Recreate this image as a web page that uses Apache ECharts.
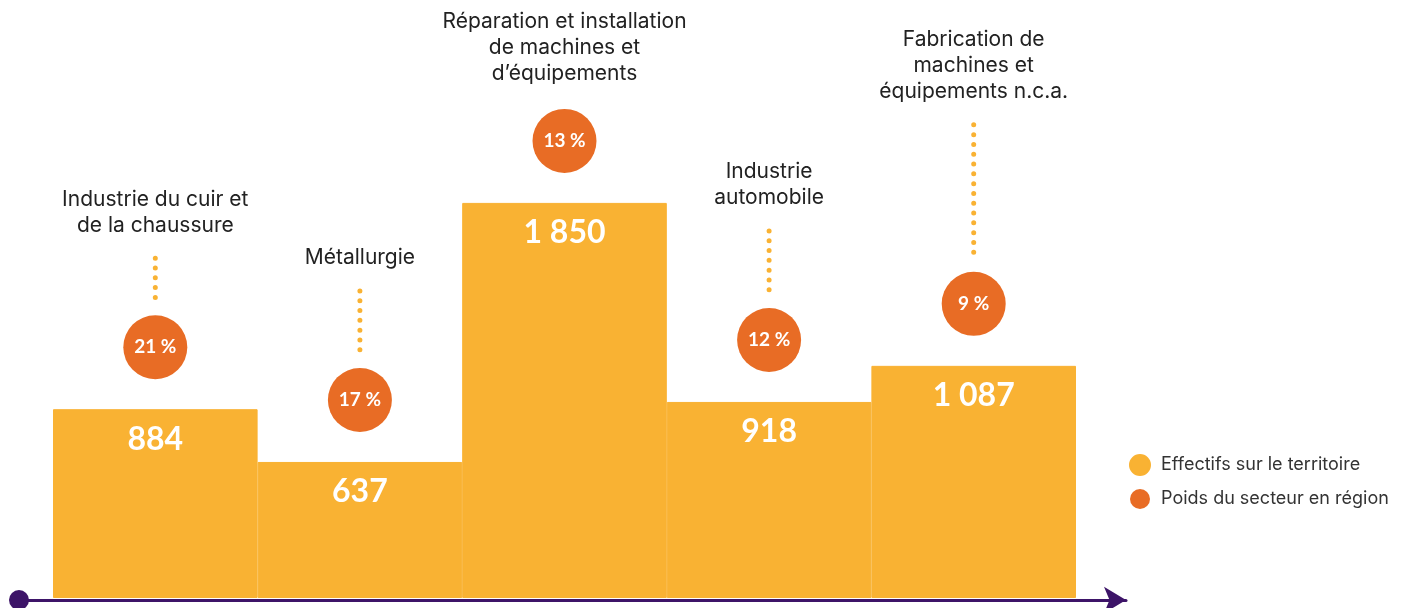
<!DOCTYPE html>
<html>
<head>
<meta charset="utf-8">
<script src="https://cdn.jsdelivr.net/npm/echarts@6/dist/echarts.min.js"></script>
<style>
  html, body { margin: 0; padding: 0; background: #fff; }
  #chart { width: 1405px; height: 608px; }
</style>
</head>
<body>
<div id="chart"></div>
<script>
const categories = [
  "Industrie du cuir et\nde la chaussure",
  "Métallurgie",
  "Réparation et installation\nde machines et\nd’équipements",
  "Industrie\nautomobile",
  "Fabrication de\nmachines et\néquipements n.c.a."
];
const effectifs = [884, 637, 1850, 918, 1087];
const poids = [21, 17, 13, 12, 9];
const seriesNames = ["Effectifs sur le territoire", "Poids du secteur en région"];

// longueur des pointillés au-dessus de chaque pastille (style)
const dotLen = [40, 60, 0, 60, 130];

const YELLOW = "#F9B233";
const ORANGE = "#E86C25";
const PURPLE = "#3D1468";
const FONT = "Inter, Lato, sans-serif";
const BOLD = "Lato, sans-serif";

const fmtNum = (v) => String(v).replace(/\B(?=(\d{3})+(?!\d))/g, " ");

const chart = echarts.init(document.getElementById("chart"));

const option = {
  animation: false,
  legend: {
    orient: "vertical",
    left: 1124,
    top: 449,
    icon: "circle",
    itemWidth: 20,
    itemHeight: 20,
    itemGap: 13,
    textStyle: { fontFamily: FONT, fontSize: 18, color: "#333", padding: [0, 0, 0, 6] },
    data: seriesNames
  },
  grid: [
    { left: 53, right: 329, top: 0, bottom: 10 },
    { left: 19, right: 279, top: 0, bottom: 8 }
  ],
  xAxis: [
    {
      type: "category",
      gridIndex: 0,
      data: categories,
      boundaryGap: true,
      axisLine: { show: false },
      axisTick: { show: false },
      axisLabel: { show: false }
    },
    {
      type: "value",
      gridIndex: 1,
      min: 0,
      max: 1,
      splitLine: { show: false },
      axisTick: { show: false },
      axisLabel: { show: false },
      axisLine: {
        show: true,
        symbol: ["circle", "arrow"],
        symbolSize: [20, 22],
        lineStyle: { color: PURPLE, width: 3 }
      }
    }
  ],
  yAxis: [
    { type: "value", gridIndex: 0, min: 0, max: 2800, show: false },
    { type: "value", gridIndex: 1, min: 0, max: 1, show: false }
  ],
  series: [
    {
      name: seriesNames[0],
      type: "bar",
      xAxisIndex: 0,
      yAxisIndex: 0,
      barWidth: "100%",
      barCategoryGap: 0,
      itemStyle: { color: YELLOW, borderColor: YELLOW, borderWidth: 1 },
      label: {
        show: true,
        position: "insideTop",
        distance: 14,
        color: "#fff",
        fontFamily: BOLD,
        fontWeight: "bold",
        fontSize: 32,
        formatter: (p) => fmtNum(p.value)
      },
      data: effectifs
    },
    {
      name: seriesNames[1],
      type: "scatter",
      xAxisIndex: 0,
      yAxisIndex: 0,
      symbol: "circle",
      symbolSize: 64,
      symbolOffset: [0, -62],
      itemStyle: { color: ORANGE, opacity: 1 },
      label: {
        show: true,
        position: "inside",
        color: "#fff",
        fontFamily: BOLD,
        fontWeight: "bold",
        fontSize: 19,
        formatter: (p) => poids[p.dataIndex] + " %"
      },
      data: effectifs.map((v, i) => [i, v]),
      z: 5
    },
    {
      type: "custom",
      xAxisIndex: 0,
      yAxisIndex: 0,
      silent: true,
      clip: false,
      encode: { x: 0, y: 1 },
      data: effectifs.map((v, i) => [i, v]),
      renderItem: (params, api) => {
        const i = api.value(0);
        const pt = api.coord([i, api.value(1)]);
        const circleTop = pt[1] - 62 - 32;
        const children = [];
        let textBottom = circleTop - 22;
        const len = dotLen[params.dataIndex];
        if (len > 0) {
          const y1 = circleTop - 17;
          const y0 = y1 - len;
          children.push({
            type: "line",
            shape: { x1: pt[0], y1: y0, x2: pt[0], y2: y1 },
            style: { stroke: YELLOW, lineWidth: 5, lineCap: "round", lineDash: [0, 9.8] }
          });
          textBottom = y0 - 20;
        }
        children.push({
          type: "text",
          style: {
            x: pt[0],
            y: textBottom,
            text: categories[params.dataIndex],
            align: "center",
            verticalAlign: "bottom",
            fill: "#222",
            font: "21px " + FONT,
            lineHeight: 26
          }
        });
        return { type: "group", children: children };
      },
      z: 4
    }
  ]
};

chart.setOption(option);
</script>
</body>
</html>
